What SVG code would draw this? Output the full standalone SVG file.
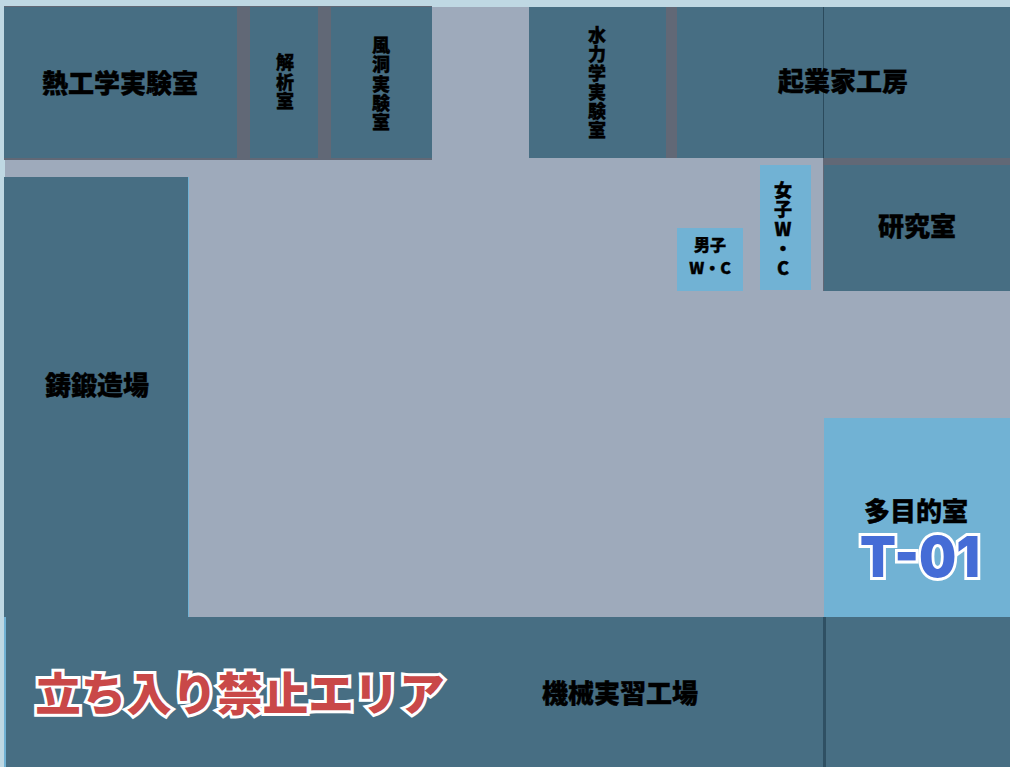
<svg xmlns="http://www.w3.org/2000/svg" width="1010" height="767" viewBox="0 0 1010 767">
<style>
.r{fill:#476e83}.l{fill:#71b2d4}.w{fill:#616876}
text{font-family:"Noto Sans CJK JP","Noto Sans",sans-serif;font-weight:900;fill:#000;text-anchor:middle}
.a{font-size:26px;stroke:#000;stroke-width:.4px}.s{font-size:18px;stroke:#000;stroke-width:.4px}.m{font-size:16px;stroke:#000;stroke-width:.4px}
.o{paint-order:stroke;stroke:#fff;stroke-linejoin:miter;stroke-miterlimit:3}
</style>
<rect width="1010" height="767" fill="#bfd8e3"/>
<rect x="5" y="7" width="1005" height="760" fill="#9eaabb"/>
<rect x="4" y="6" width="428" height="154" class="w"/>
<rect x="529" y="7" width="148" height="151" class="w"/>
<rect x="823" y="158" width="187" height="133" class="w"/>
<g id="netsu"><rect x="4" y="7" width="233" height="151" class="r"/><text x="120" y="93" class="a">熱工学実験室</text></g>
<g id="kaiseki"><rect x="250" y="7" width="68" height="151" class="r"/><text class="s"><tspan x="285" y="69">解</tspan><tspan x="285" y="89">析</tspan><tspan x="285" y="108">室</tspan></text></g>
<g id="fudo"><rect x="331" y="7" width="101" height="151" class="r"/><text class="s"><tspan x="381" y="52">風</tspan><tspan x="381" y="71">洞</tspan><tspan x="381" y="91">実</tspan><tspan x="381" y="110">験</tspan><tspan x="381" y="129">室</tspan></text></g>
<g id="suiriki"><rect x="529" y="7" width="137" height="151" class="r"/><text class="s"><tspan x="597" y="42">水</tspan><tspan x="597" y="61">力</tspan><tspan x="597" y="80">学</tspan><tspan x="597" y="99">実</tspan><tspan x="597" y="118">験</tspan><tspan x="597" y="137">室</tspan></text></g>
<g id="kigyo"><rect x="677" y="7" width="333" height="151" class="r"/><rect x="823" y="7" width="1" height="151" fill="#2b4a5c"/><text x="843" y="91" class="a">起業家工房</text></g>
<g id="kenkyu"><rect x="824" y="165" width="186" height="126" class="r"/><text x="917" y="236" class="a">研究室</text></g>
<g id="danshi"><rect x="677" y="228" width="66" height="63" class="l"/><text class="m"><tspan x="710" y="251">男子</tspan><tspan x="710" y="274">W・C</tspan></text></g>
<g id="joshi"><rect x="760" y="165" width="51" height="125" class="l"/><text class="s"><tspan x="783" y="197">女</tspan><tspan x="783" y="216">子</tspan><tspan x="783" y="236">W</tspan><tspan x="783" y="255">・</tspan><tspan x="783" y="275">C</tspan></text></g>
<g id="chuzo"><rect x="4" y="177" width="184" height="440" class="r"/><rect x="188" y="177" width="1" height="440" class="l"/><text x="97" y="395" class="a">鋳鍛造場</text></g>
<g id="tamokuteki"><rect x="824" y="418" width="186" height="199" class="l"/><text x="916" y="521" class="a">多目的室</text><text x="920" y="577" class="o" style="font-family:Inter,sans-serif;font-size:57px;font-weight:900;fill:#456cd6;stroke-width:6px" textLength="120" lengthAdjust="spacingAndGlyphs">T-01</text></g>
<g id="kikai"><rect x="4" y="617" width="2" height="150" class="l"/><rect x="6" y="617" width="1004" height="150" class="r"/><rect x="823" y="617" width="3" height="150" fill="#2f5063"/><text x="620" y="703" class="a">機械実習工場</text><text x="240" y="711" class="o" style="font-size:45.500px;fill:#c94848;stroke-width:6px">立ち入り禁止エリア</text></g>
</svg>
